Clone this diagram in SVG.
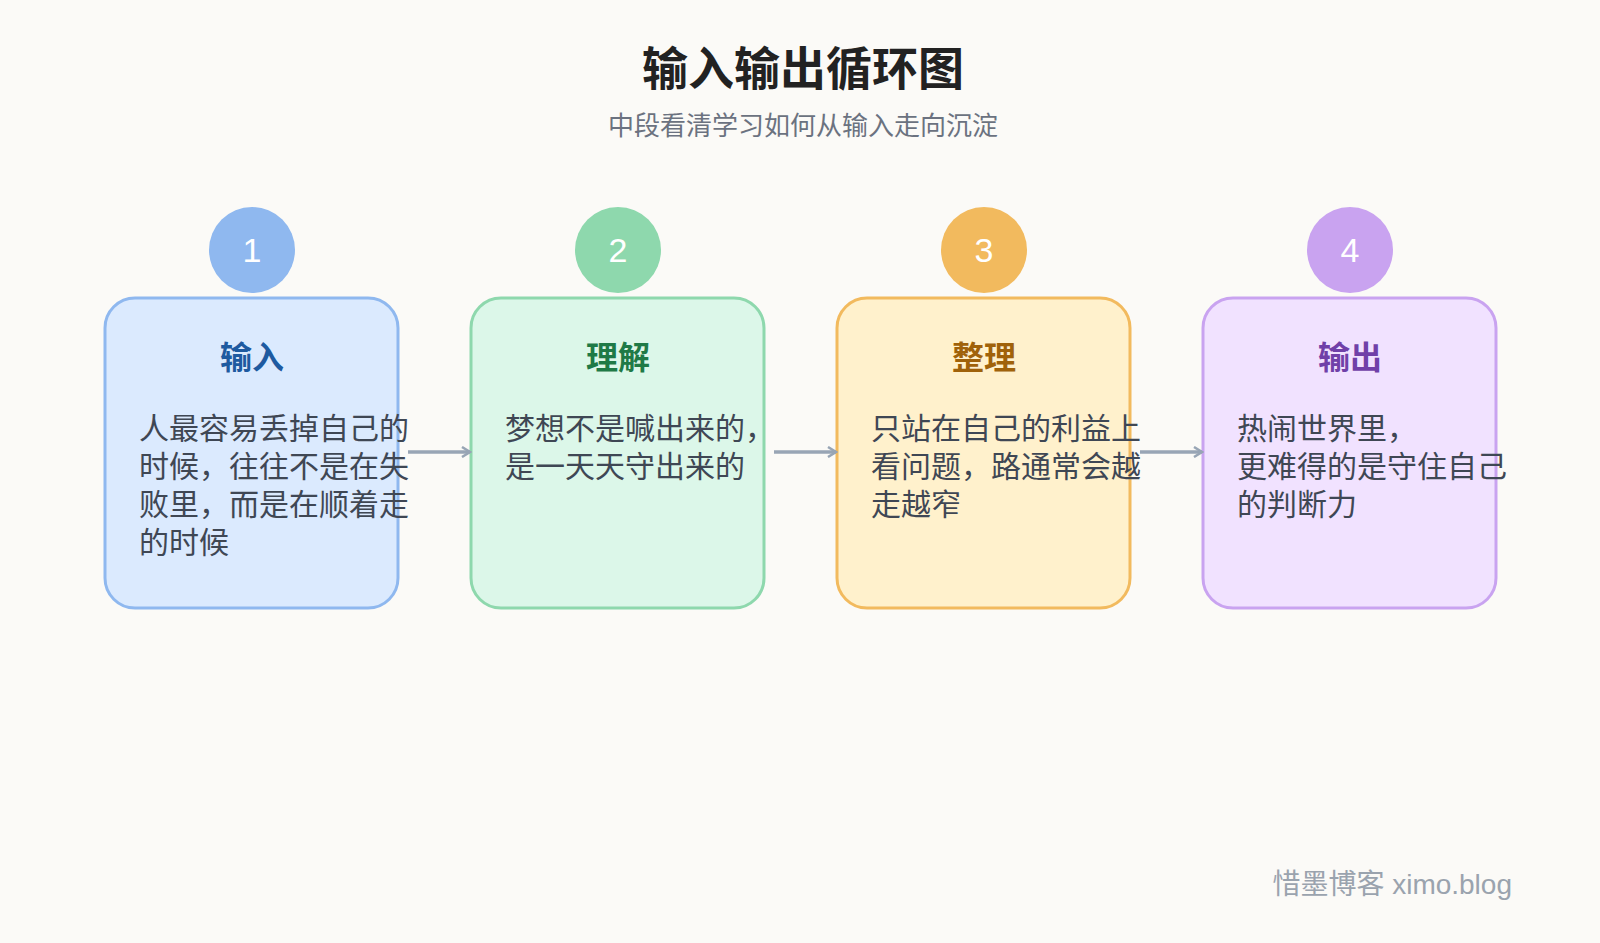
<svg xmlns="http://www.w3.org/2000/svg" width="1600" height="943" viewBox="0 0 1600 943">
<defs>
<style>
.t{font-family:"Liberation Sans","Noto Sans CJK SC",sans-serif}
.box{stroke-width:3}
.num{font-size:34px;fill:#fff;text-anchor:middle}
.h{font-size:32px;font-weight:bold;text-anchor:middle}
.b{font-size:30px;fill:#3f4754}
.c{stroke:#98a5b5;stroke-width:3.5;fill:none}
</style>
<marker id="a" viewBox="0 0 12 12" refX="10" refY="6" markerWidth="12" markerHeight="12" markerUnits="userSpaceOnUse" orient="auto"><path d="M2 1 L10 6 L2 11" fill="none" stroke="#98a5b5" stroke-width="2.5"/></marker>
</defs>
<rect width="1600" height="943" fill="#fbfaf7"/>
<text class="t" x="803" y="85" font-size="46" font-weight="bold" text-anchor="middle" fill="#222">输入输出循环图</text>
<text class="t" x="803" y="135" font-size="26" text-anchor="middle" fill="#6b7280">中段看清学习如何从输入走向沉淀</text>
<g id="n1">
<rect class="box" x="105" y="298" width="293" height="310" rx="30" fill="#dbeafe" stroke="#8fb8ef"/>
<circle cx="252" cy="250" r="43" fill="#8fb8ef"/><text class="t num" x="252" y="262">1</text>
<text class="t h" x="252" y="369" fill="#1e5aa0">输入</text>
<text class="t b" x="139" y="439"><tspan x="139">人最容易丢掉自己的</tspan><tspan x="139" dy="38">时候，往往不是在失</tspan><tspan x="139" dy="38">败里，而是在顺着走</tspan><tspan x="139" dy="38">的时候</tspan></text>
</g>
<g id="n2">
<rect class="box" x="471" y="298" width="293" height="310" rx="30" fill="#dcf7e9" stroke="#8ed8ad"/>
<circle cx="618" cy="250" r="43" fill="#8ed8ad"/><text class="t num" x="618" y="262">2</text>
<text class="t h" x="618" y="369" fill="#1f7a46">理解</text>
<text class="t b" x="505" y="439"><tspan x="505">梦想不是喊出来的，</tspan><tspan x="505" dy="38">是一天天守出来的</tspan></text>
</g>
<g id="n3">
<rect class="box" x="837" y="298" width="293" height="310" rx="30" fill="#fff1cc" stroke="#f2ba5e"/>
<circle cx="984" cy="250" r="43" fill="#f2ba5e"/><text class="t num" x="984" y="262">3</text>
<text class="t h" x="984" y="369" fill="#a0620a">整理</text>
<text class="t b" x="871" y="439"><tspan x="871">只站在自己的利益上</tspan><tspan x="871" dy="38">看问题，路通常会越</tspan><tspan x="871" dy="38">走越窄</tspan></text>
</g>
<g id="n4">
<rect class="box" x="1203" y="298" width="293" height="310" rx="30" fill="#f1e2ff" stroke="#c9a3f0"/>
<circle cx="1350" cy="250" r="43" fill="#c9a3f0"/><text class="t num" x="1350" y="262">4</text>
<text class="t h" x="1350" y="369" fill="#7040a8">输出</text>
<text class="t b" x="1237" y="439"><tspan x="1237">热闹世界里，</tspan><tspan x="1237" dy="38">更难得的是守住自己</tspan><tspan x="1237" dy="38">的判断力</tspan></text>
</g>
<g id="connectors">
<line class="c" x1="408" y1="452" x2="470" y2="452" marker-end="url(#a)"/>
<line class="c" x1="774" y1="452" x2="836" y2="452" marker-end="url(#a)"/>
<line class="c" x1="1140" y1="452" x2="1202" y2="452" marker-end="url(#a)"/>
</g>
<text class="t" x="1512" y="894" font-size="28" text-anchor="end" fill="#9aa3ae">惜墨博客 ximo.blog</text>
</svg>
